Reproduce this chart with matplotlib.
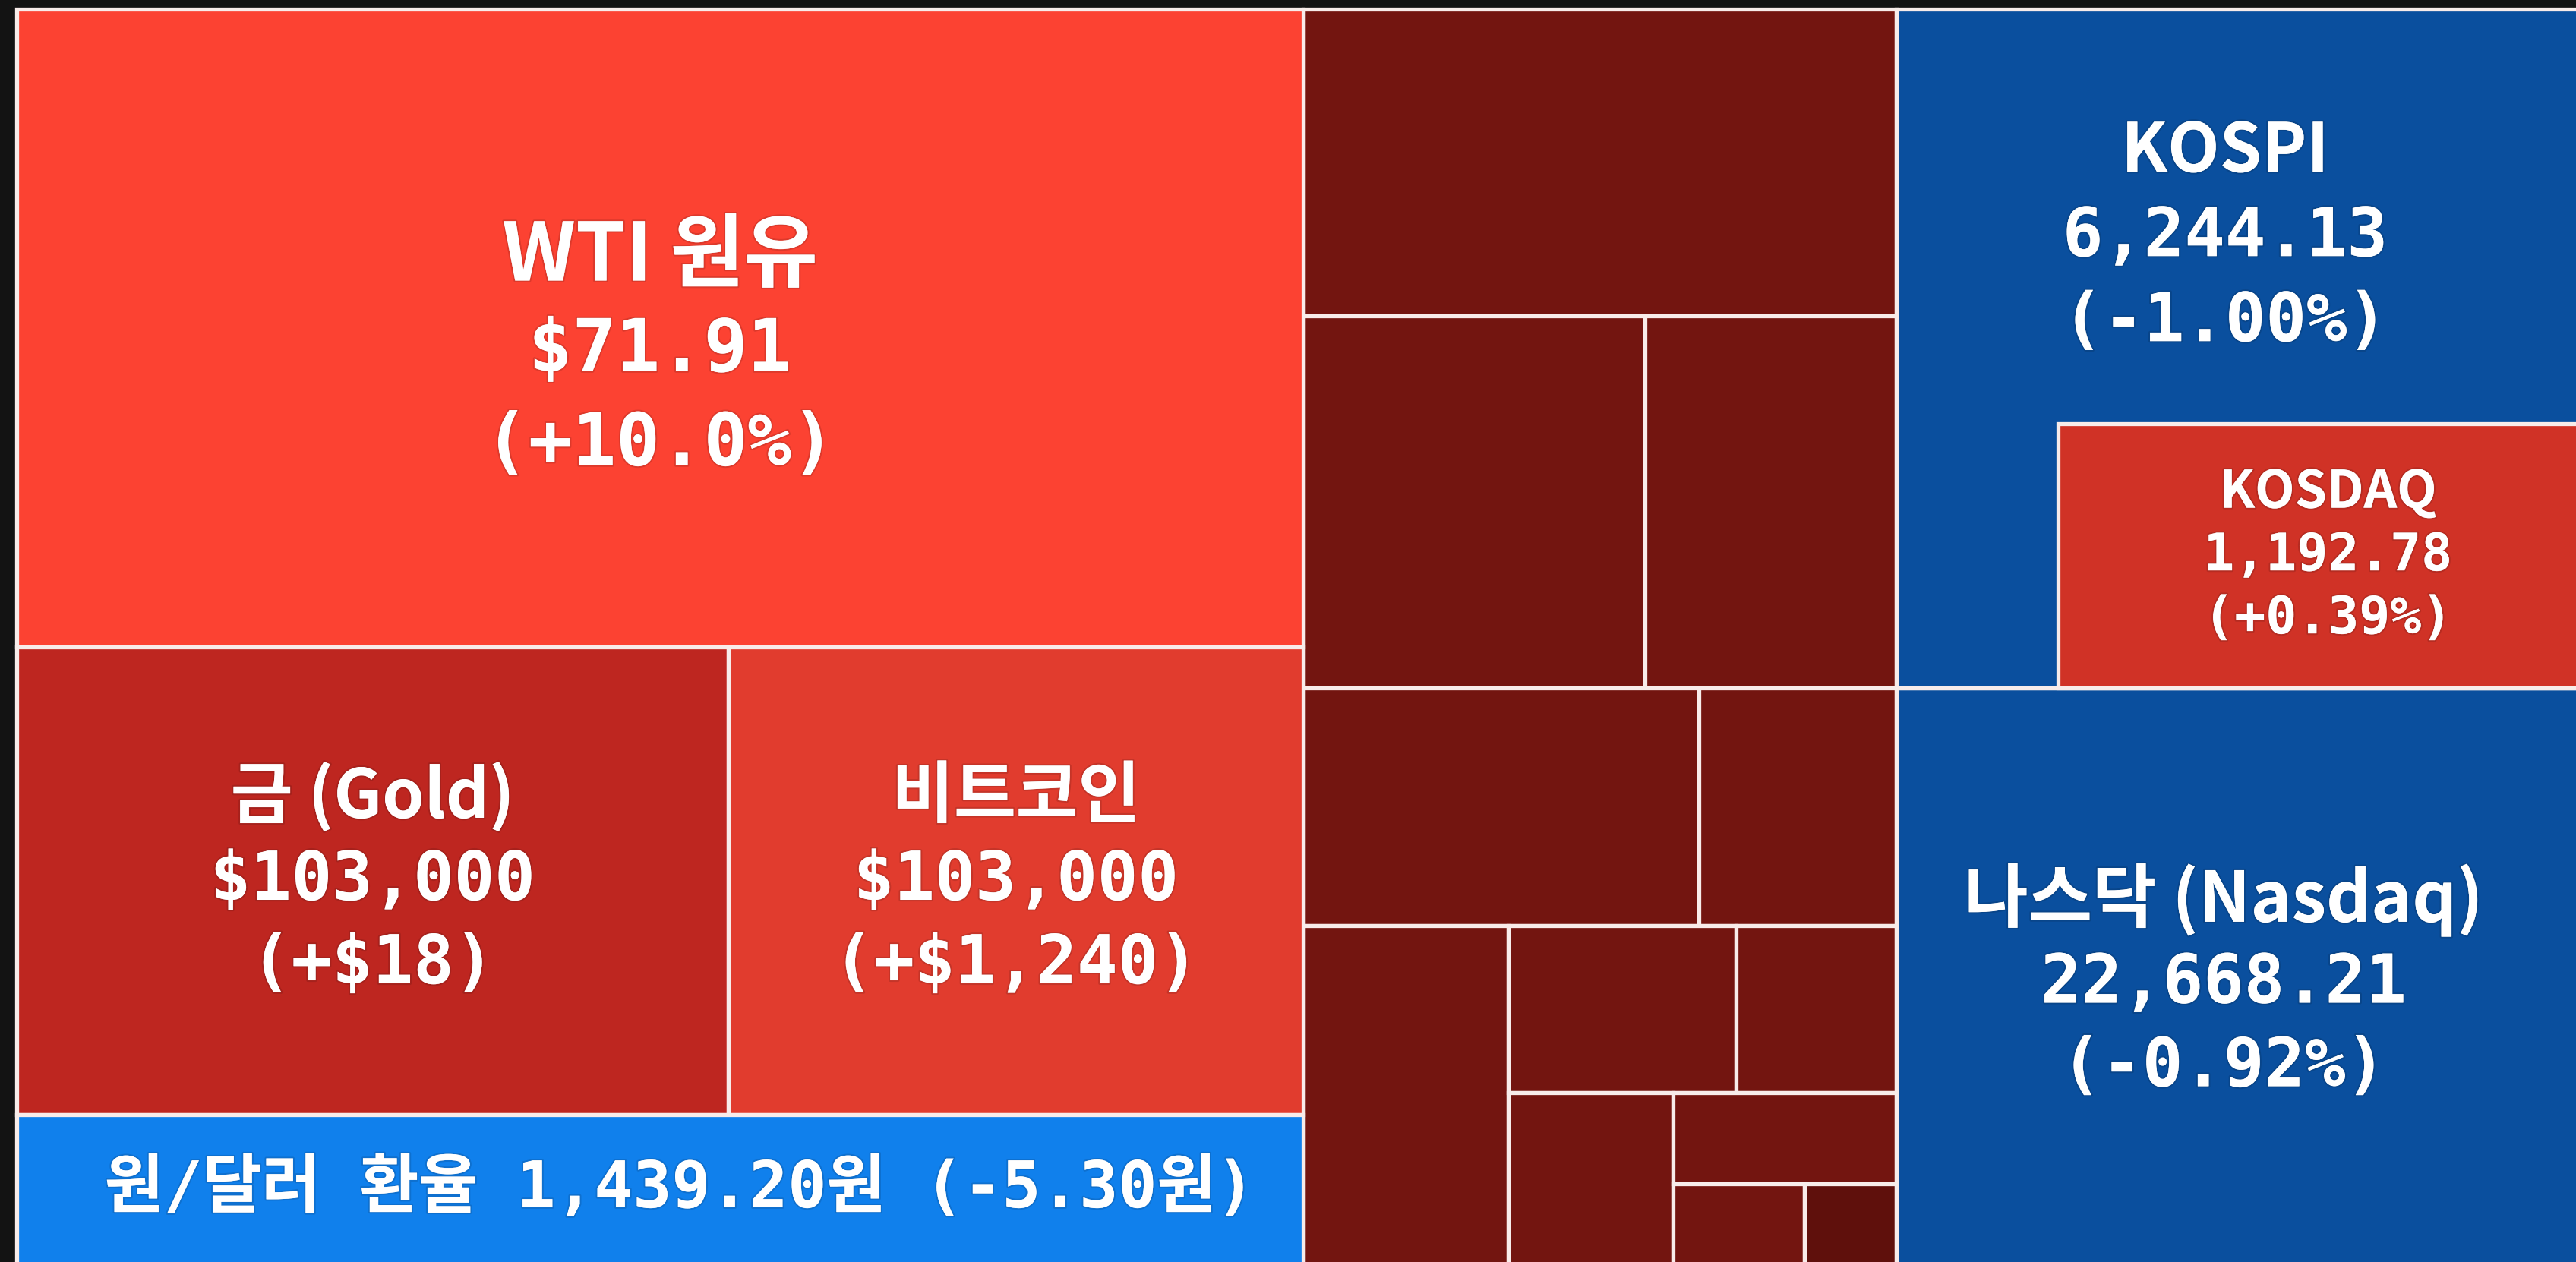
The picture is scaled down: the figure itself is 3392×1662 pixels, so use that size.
import matplotlib
matplotlib.use("Agg")
import matplotlib.pyplot as plt
from matplotlib.patches import Rectangle
import matplotlib.patheffects as pe

# labelled cells (size = share of the map, per mille)
names = ["WTI 원유", "금 (Gold)", "비트코인", "원/달러 환율",
         "KOSPI", "KOSDAQ", "나스닥 (Nasdaq)"]
keys = ["WTI", "GOLD", "BTC", "FX", "KOSPI", "KOSDAQ", "NASDAQ"]
sizes = [255.4, 103.4, 83.5, 60.0, 101.3, 42.7, 122.3]
prices = ["$71.91", "$103,000", "$103,000", "1,439.20원",
          "6,244.13", "1,192.78", "22,668.21"]
changes = ["(+10.0%)", "(+$18)", "(+$1,240)", "(-5.30원)",
           "(-1.00%)", "(+0.39%)", "(-0.92%)"]

# small unlabelled cells in the middle block
other_sizes = [56.5, 39.5, 29.1, 29.3, 14.6, 21.6, 11.8, 8.3, 8.8, 6.3, 3.3, 2.3]

# colours
colors = {"WTI": "#fc4232", "GOLD": "#be2620", "BTC": "#e13c2e",
          "FX": "#1080ec", "KOSPI": "#0a4f9e", "KOSDAQ": "#d03226",
          "NASDAQ": "#0a4f9e"}
other_color = "#731510"
last_color = "#5f100c"
edge = "#f8ecea"

KOSPI_TOP = 0.869   # part of KOSPI's own area that sits above the KOSDAQ inset

TITLE_FONT = ["Noto Sans CJK KR", "DejaVu Sans"]
NUM_FONT = ["DejaVu Sans Mono", "Noto Sans CJK KR"]


def weight(node):
    if node[0] in ("h", "v"):
        return sum(weight(k) for k in node[1])
    return node[1]


def place(node, x, y, w, h, out):
    # simple slice and dice layout, "h" = side by side, "v" = stacked
    if node[0] not in ("h", "v"):
        out[node[0]] = (x, y, w, h)
        return
    total = weight(node)
    for kid in node[1]:
        f = weight(kid) / total
        if node[0] == "h":
            place(kid, x, y, w * f, h, out)
            x += w * f
        else:
            place(kid, x, y, w, h * f, out)
            y += h * f


s = dict(zip(keys, sizes))
m = [("m%d" % i, v) for i, v in enumerate(other_sizes)]

left = ("v", [("WTI", s["WTI"]),
              ("h", [("GOLD", s["GOLD"]), ("BTC", s["BTC"])]),
              ("FX", s["FX"])])
middle = ("v", [m[0],
                ("h", [m[1], m[2]]),
                ("h", [m[3], m[4]]),
                ("h", [m[5], ("v", [("h", [m[6], m[7]]),
                                    ("h", [m[8], ("v", [m[9], ("h", [m[10], m[11]])])])])])])
kospi = ("v", [("KOSPI", s["KOSPI"] * KOSPI_TOP),
               ("h", [("KOSPI_pad", s["KOSPI"] * (1 - KOSPI_TOP)),
                      ("KOSDAQ", s["KOSDAQ"])])])
right = ("v", [kospi, ("NASDAQ", s["NASDAQ"])])
root = ("h", [left, middle, right])

W, H = 3392, 1662
fig = plt.figure(figsize=(W / 100, H / 100), dpi=100, facecolor="#131313")
ax = fig.add_axes([0, 0, 1, 1])
ax.set_xlim(0, W)
ax.set_ylim(H, 0)
ax.axis("off")

rects = {}
place(root, 22, 12, W - 22 + 3, H - 12 + 3, rects)

lw = 3.8


def draw(x, y, w, h, c):
    ax.add_patch(Rectangle((x, y), w, h, facecolor=c, edgecolor=edge, lw=lw))


for i in range(len(other_sizes)):
    x, y, w, h = rects["m%d" % i]
    draw(x, y, w, h, last_color if i == len(other_sizes) - 1 else other_color)

for k in ["WTI", "GOLD", "BTC", "FX", "NASDAQ"]:
    draw(*rects[k], colors[k])

# KOSPI cell wraps the KOSDAQ inset
kx, ky, kw, kh = rects["KOSPI"]
draw(kx, ky, kw, kh + rects["KOSPI_pad"][3], colors["KOSPI"])
draw(*rects["KOSDAQ"], colors["KOSDAQ"])

# text placement tweaks: (dx, dy, gap, title pt, value pt)
text_style = {
    "WTI": (0, 30, 124, 76, 69),
    "GOLD": (0, 0, 110, 64, 64),
    "BTC": (0, 0, 110, 64, 64),
    "KOSPI": (-16, 27, 112, 64, 64),
    "KOSDAQ": (13, 0, 83, 49, 49),
    "NASDAQ": (-18, 10, 110, 66, 64),
}
shadow = [pe.withStroke(linewidth=3, foreground=(0, 0, 0, 0.12))]

for i, k in enumerate(keys):
    x, y, w, h = rects[k]
    cx, cy = x + w / 2, y + h / 2
    if k == "FX":
        ax.text(cx + 26, cy, names[i] + " " + prices[i] + " " + changes[i],
                ha="center", va="center", color="white", fontsize=61,
                fontweight="bold", family=NUM_FONT, path_effects=shadow)
        continue
    dx, dy, gap, tsz, vsz = text_style[k]
    cx += dx
    cy += dy
    ax.text(cx, cy - gap, names[i], ha="center", va="center", color="white",
            fontsize=tsz, fontweight="bold", family=TITLE_FONT, path_effects=shadow)
    ax.text(cx, cy, prices[i], ha="center", va="center", color="white",
            fontsize=vsz, fontweight="bold", family=NUM_FONT, path_effects=shadow)
    ax.text(cx, cy + gap, changes[i], ha="center", va="center", color="white",
            fontsize=vsz, fontweight="bold", family=NUM_FONT, path_effects=shadow)

fig.savefig("out.png", dpi=100, facecolor=fig.get_facecolor())
